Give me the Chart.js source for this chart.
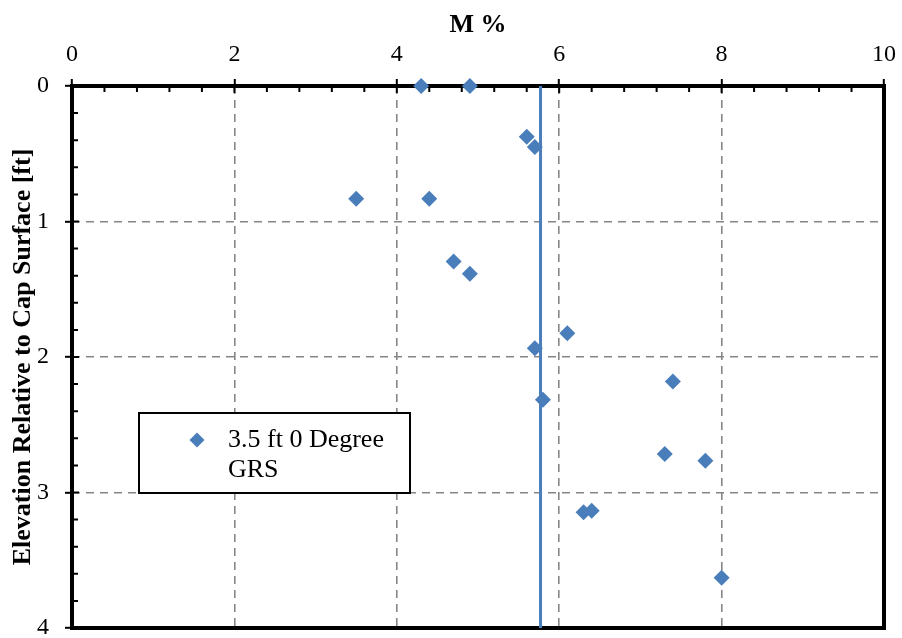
<!DOCTYPE html>
<html>
<head>
<meta charset="utf-8">
<script src="https://cdn.jsdelivr.net/npm/chart.js@4/dist/chart.umd.min.js"></script>
<style>
  body { margin: 0; background: #fff; }
  #wrap { width: 902px; height: 638px; }
</style>
</head>
<body>
<div id="wrap"><canvas id="chart" width="902" height="638"></canvas></div>
<script>
// ===== Data =====
const seriesLabel = "3.5 ft 0 Degree GRS";
const moisture = [4.3, 4.9, 5.6, 5.7, 3.5, 4.4, 4.7, 4.9, 6.1, 5.7, 7.4, 5.8, 7.3, 7.8, 6.3, 6.4, 8.0];
const elevation = [0, 0, 0.375, 0.45, 0.833, 0.833, 1.295, 1.385, 1.825, 1.935, 2.18, 2.315, 2.715, 2.765, 3.145, 3.135, 3.63];
const meanMoisture = 5.77;
const xTicks = [0, 2, 4, 6, 8, 10];
const yTicks = [0, 1, 2, 3, 4];

const BLUE = "#4A7EBB";
const SERIF = "'Liberation Serif', 'Times New Roman', serif";

// Frame + inner tick marks (minor ticks on the inside, majors cross the frame)
const framePlugin = {
  id: "frame",
  beforeDatasetsDraw(chart) {
    const { ctx, chartArea: a, scales: { x, y } } = chart;
    ctx.save();
    ctx.strokeStyle = "#000";
    ctx.lineWidth = 2;
    ctx.beginPath();
    for (let v = 0; v <= 10.001; v += 0.4) {
      const px = x.getPixelForValue(v);
      const major = Math.abs(v / 2 - Math.round(v / 2)) < 0.01;
      ctx.moveTo(px, a.top);
      ctx.lineTo(px, a.top + (major ? 7 : 6));
    }
    for (let v = 0; v <= 4.001; v += 0.2) {
      const py = y.getPixelForValue(v);
      const major = Math.abs(v - Math.round(v)) < 0.01;
      ctx.moveTo(a.left, py);
      ctx.lineTo(a.left + (major ? 7 : 6), py);
    }
    ctx.stroke();
    ctx.lineWidth = 4;
    ctx.strokeRect(a.left, a.top, a.right - a.left, a.bottom - a.top);
    ctx.restore();
  },
  afterDraw(chart) {
    // legend box inside the plot
    const { ctx, chartArea: a } = chart;
    const bx = a.left + 67, by = a.top + 327, bw = 271, bh = 80;
    ctx.save();
    ctx.fillStyle = "#fff";
    ctx.fillRect(bx, by, bw, bh);
    ctx.strokeStyle = "#000";
    ctx.lineWidth = 2;
    ctx.strokeRect(bx, by, bw, bh);
    const cx = bx + 58, cy = by + 27, r = 7.5;
    ctx.fillStyle = BLUE;
    ctx.beginPath();
    ctx.moveTo(cx, cy - r);
    ctx.lineTo(cx + r, cy);
    ctx.lineTo(cx, cy + r);
    ctx.lineTo(cx - r, cy);
    ctx.closePath();
    ctx.fill();
    const cut = seriesLabel.lastIndexOf(" ");
    ctx.fillStyle = "#000";
    ctx.font = "26px " + SERIF;
    ctx.textBaseline = "middle";
    ctx.fillText(seriesLabel.slice(0, cut), bx + 89, cy);
    ctx.fillText(seriesLabel.slice(cut + 1), bx + 89, cy + 30);
    ctx.restore();
  }
};

const gridOpts = {
  color: "#858585",
  lineWidth: 1.6,
  drawTicks: true,
  tickLength: 7,
  tickColor: "#000",
  tickWidth: 2,
  tickBorderDash: []
};

new Chart(document.getElementById("chart"), {
  data: {
    datasets: [
      {
        type: "scatter",
        label: seriesLabel,
        data: moisture.map((m, i) => ({ x: m, y: elevation[i] })),
        pointStyle: "rectRot",
        pointRadius: 8,
        pointHoverRadius: 8,
        backgroundColor: BLUE,
        borderColor: BLUE,
        borderWidth: 0,
        clip: false
      },
      {
        type: "line",
        label: "mean",
        data: [{ x: meanMoisture, y: yTicks[0] }, { x: meanMoisture, y: yTicks[yTicks.length - 1] }],
        borderColor: BLUE,
        borderWidth: 3,
        pointRadius: 0
      }
    ]
  },
  options: {
    responsive: false,
    animation: false,
    devicePixelRatio: 1,
    layout: { padding: { left: 0, right: 18, top: 0, bottom: 10 } },
    plugins: { legend: { display: false }, tooltip: { enabled: false } },
    scales: {
      x: {
        type: "linear",
        position: "top",
        min: xTicks[0],
        max: xTicks[xTicks.length - 1],
        afterBuildTicks: s => { s.ticks = xTicks.map(v => ({ value: v })); },
        afterFit: s => { s.height = 86; s.paddingLeft = 0; s.paddingRight = 0; },
        ticks: { color: "#000", font: { family: SERIF, size: 24 }, padding: 10, autoSkip: false },
        title: { display: true, text: "M %", color: "#000", font: { family: SERIF, size: 26, weight: "bold" }, padding: { top: 10, bottom: 0 } },
        grid: gridOpts,
        border: { display: false, dash: [8, 6] }
      },
      y: {
        type: "linear",
        reverse: true,
        min: yTicks[0],
        max: yTicks[yTicks.length - 1],
        afterBuildTicks: s => { s.ticks = yTicks.map(v => ({ value: v })); },
        afterFit: s => { s.width = 72; s.paddingTop = 0; s.paddingBottom = 0; },
        ticks: { color: "#000", font: { family: SERIF, size: 24 }, padding: 16, autoSkip: false },
        title: { display: true, text: "Elevation Relative to Cap Surface [ft]", color: "#000", font: { family: SERIF, size: 26, weight: "bold" }, padding: { top: 8, bottom: 0 } },
        grid: gridOpts,
        border: { display: false, dash: [8, 6] }
      }
    }
  },
  plugins: [framePlugin]
});
</script>
</body>
</html>
